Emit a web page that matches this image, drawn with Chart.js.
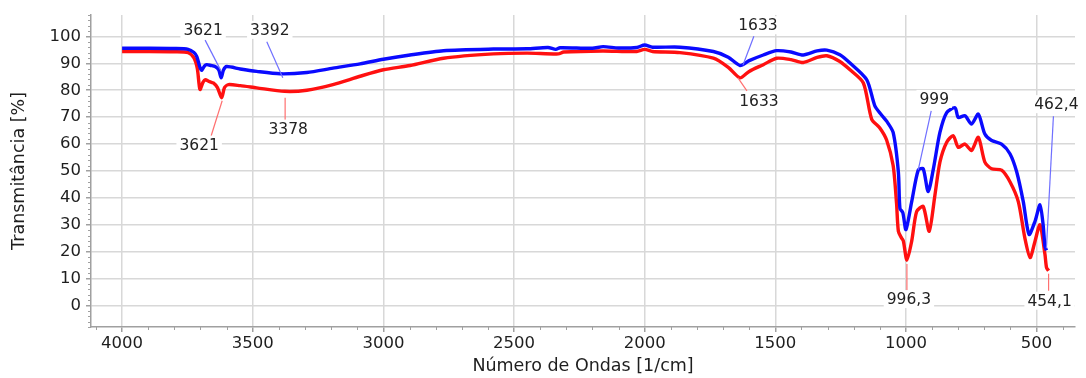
<!DOCTYPE html>
<html><head><meta charset="utf-8">
<script src="https://cdn.jsdelivr.net/npm/chart.js@4.4.1/dist/chart.umd.min.js"></script>
<style>html,body{margin:0;padding:0;background:#fff;}canvas{display:block;}</style>
</head><body>
<canvas id="c" width="1086" height="378"></canvas>
<script>
// ---- data ----
const blueWavenumbers = [4000,3900,3800,3747,3725,3714,3702,3695,3685,3676,3660,3644,3630,3621,3612,3600,3548,3485,3395,3293,3193,3089,3000,2898,2770,2579,2450,2370,2340,2324,2200,2159,2100,2030,2000,1970,1865,1737,1680,1635,1600,1546,1495,1440,1393,1340,1303,1253,1214,1150,1119,1095,1074,1049,1029,1023,1012,1000,978,953,934,915,895,870,844,812,800,774,749,723,698,672,634,602,576,551,529,506,487,475,468,462.4];
const blueValues      = [95.6,95.6,95.5,95.2,94.0,92.5,88.5,87.4,89.0,89.5,89.2,88.8,87.5,84.6,87.5,88.8,87.9,87.0,86.1,86.6,88.2,89.8,91.5,93.1,94.7,95.3,95.4,95.9,95.2,95.8,95.6,96.2,95.7,95.9,96.8,96.0,96.0,94.4,92.3,89.2,91.0,93.1,94.7,94.2,93.1,94.6,94.9,93.2,90.1,83.9,74.2,71.0,68.5,64.3,49.6,36.1,34.5,28.2,38.6,50.3,50.8,42.3,50.8,64.3,71.7,73.5,69.9,70.5,67.4,71.1,63.7,61.3,60.0,56.4,49.6,38.6,26.4,31.3,37.4,30.0,22.0,20.5];
const redWavenumbers  = [4000,3900,3800,3747,3725,3712,3702,3690,3682,3665,3651,3635,3619,3608,3593,3548,3485,3378,3293,3193,3089,3000,2898,2770,2579,2450,2330,2310,2160,2030,2000,1970,1865,1737,1680,1635,1600,1546,1495,1440,1393,1340,1303,1253,1214,1163,1131,1100,1074,1049,1036,1029,1017,1010,996.3,978,959,934,911,889,870,844,819,800,774,749,723,698,672,634,602,570,545,525,506,487,468,462,454.1];
const redValues       = [94.4,94.4,94.3,94.0,92.0,88.0,80.3,83.0,83.9,83.2,82.7,81.0,77.2,81.0,82.1,81.7,80.9,79.6,80.0,82.1,85.2,87.6,89.2,91.9,93.5,93.8,93.5,94.2,94.6,94.4,95.2,94.4,94.0,91.9,88.5,84.6,87.0,89.5,91.9,91.4,90.3,92.2,92.8,90.7,87.6,82.7,69.2,66.0,61.5,52.0,38.0,27.6,25.1,24.0,16.8,23.9,34.9,36.8,27.6,41.1,53.3,60.7,63.1,58.8,60.0,57.6,62.5,53.3,50.8,50.3,46.0,38.6,25.1,17.8,23.9,30.0,19.0,14.1,12.9];
const xTickValues = [4000,3500,3000,2500,2000,1500,1000,500];
const yTickValues = [0,10,20,30,40,50,60,70,80,90,100];
const peakLabels      = ['3621','3392','3621','3378','1633','1633','999','996,3','462,4','454,1'];
const peakSeries      = ['blue','blue','red','red','blue','red','blue','red','blue','red'];
const peakWavenumbers = [3621,3385,3617,3376,1624,1643,953,996.3,462.4,454.1];
const peakValues      = [87.1,84.6,76.1,77.2,89.3,84.6,50.4,15.4,21.3,11.8];

const FONT = 'DejaVu Sans';
const toXY = (xs, ys) => xs.map((x, i) => ({x, y: ys[i]}));

// label placement offsets in pixels: [textDx, textDy, lineStartDx, lineStartDy]
const labelOffsets = [[-18,-41,-16,-31],[-13,-48,-16,-36],[-23,44,-11,35],[3,31,0,22],[15,-40,11,-29],[21,23,9,13],[16,-71,13,-59],[2,35,0,27],[10,-144,7,-132],[1,27,0,17]];

const extras = {
  id: 'extras',
  beforeDatasetsDraw(chart) {
    const {ctx, scales:{x, y}} = chart;
    ctx.save();
    ctx.strokeStyle = '#a0a0a0';
    ctx.lineWidth = 1;
    ctx.beginPath();
    for (let v = -8; v <= 108; v += 2) {
      if (v % 10 === 0) continue;
      const py = Math.round(y.getPixelForValue(v)) + 0.5;
      ctx.moveTo(x.left - 3, py); ctx.lineTo(x.left, py);
    }
    for (let v = 400; v <= 4100; v += 100) {
      if (v % 500 === 0) continue;
      const px = Math.round(x.getPixelForValue(v)) + 0.5;
      ctx.moveTo(px, y.bottom); ctx.lineTo(px, y.bottom + 3);
    }
    ctx.stroke();
    ctx.restore();
  },
  afterDatasetsDraw(chart) {
    const {ctx, scales:{x, y}} = chart;
    ctx.save();
    ctx.font = '15.5px "' + FONT + '"';
    ctx.textAlign = 'center';
    ctx.textBaseline = 'middle';
    peakLabels.forEach((t, i) => {
      const ex = x.getPixelForValue(peakWavenumbers[i]);
      const ey = y.getPixelForValue(peakValues[i]);
      const o = labelOffsets[i];
      const tx = ex + o[0], ty = ey + o[1];
      ctx.strokeStyle = peakSeries[i] === 'blue' ? '#6f6fff' : '#ff7070';
      ctx.lineWidth = 1.2;
      ctx.beginPath();
      ctx.moveTo(ex + o[2], ey + o[3]);
      ctx.lineTo(ex, ey);
      ctx.stroke();
      const w = ctx.measureText(t).width;
      ctx.fillStyle = '#ffffff';
      ctx.fillRect(tx - w/2 - 3, ty - 9, w + 6, 18);
      ctx.fillStyle = '#222222';
      ctx.fillText(t, tx, ty + 1);
    });
    ctx.restore();
  }
};

new Chart(document.getElementById('c'), {
  type: 'line',
  data: {
    datasets: [
      {label:'blue', data: toXY(blueWavenumbers, blueValues), borderColor:'#0a0aff', borderWidth:3.4, pointRadius:0, tension:0.25, fill:false, order:1},
      {label:'red', data: toXY(redWavenumbers, redValues), borderColor:'#ff1010', borderWidth:3.4, pointRadius:0, tension:0.25, fill:false, order:2}
    ]
  },
  options: {
    responsive: false,
    animation: false,
    events: [],
    layout: {padding: {top: 12, right: 11, left: 0, bottom: 0}},
    plugins: {legend: {display: false}, tooltip: {enabled: false}},
    scales: {
      x: {
        type: 'linear', reverse: true, min: 353, max: 4119,
        afterBuildTicks: s => { s.ticks = xTickValues.map(v => ({value: v})); },
        afterFit: s => { s.height = 51; },
        grid: {color: '#d8d8d8', lineWidth: 1.5, tickLength: 5, tickColor: '#a0a0a0'},
        border: {color: '#a0a0a0', width: 1.5},
        ticks: {color: '#1e1e1e', font: {family: FONT, size: 16.5}, padding: 2, maxRotation: 0, autoSkip: false, callback: v => String(v)},
        title: {display: true, text: 'Número de Ondas [1/cm]', color: '#1e1e1e', font: {family: FONT, size: 17.5}, padding: {top: 0, bottom: 1}}
      },
      y: {
        type: 'linear', min: -8, max: 108,
        afterBuildTicks: s => { s.ticks = yTickValues.map(v => ({value: v})); },
        afterFit: s => { s.width = 91; },
        grid: {color: '#d8d8d8', lineWidth: 1.5, tickLength: 5, tickColor: '#a0a0a0'},
        border: {color: '#a0a0a0', width: 1.5},
        ticks: {color: '#1e1e1e', font: {family: FONT, size: 16.5}, padding: 5, autoSkip: false, callback: v => String(v)},
        title: {display: true, text: 'Transmitância [%]', color: '#1e1e1e', font: {family: FONT, size: 17.5}, padding: {top: 9, bottom: 0}}
      }
    }
  },
  plugins: [extras]
});
</script>
</body></html>
